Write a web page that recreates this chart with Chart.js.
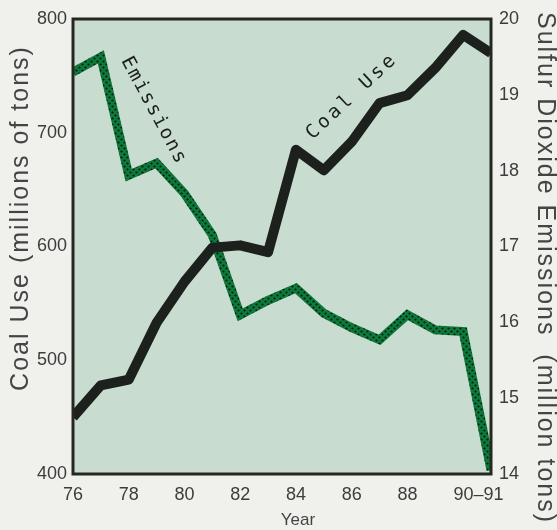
<!DOCTYPE html>
<html>
<head>
<meta charset="utf-8">
<script src="https://cdn.jsdelivr.net/npm/chart.js@4.4.1/dist/chart.umd.min.js"></script>
<style>
  html, body { margin: 0; padding: 0; background: #f0f0ec; }
  #c { display: block; }
</style>
</head>
<body>
<canvas id="c" width="557" height="530"></canvas>
<script>
// ---- data ----
const years = [76, 77, 78, 79, 80, 81, 82, 83, 84, 85, 86, 87, 88, 89, 90, 91];
const coalUse = [450, 478, 483, 533, 569, 599, 601, 595, 685, 667, 692, 726, 733, 757, 786, 770];
const so2Emissions = [19.30, 19.50, 17.94, 18.10, 17.70, 17.15, 16.10, 16.29, 16.45, 16.12, 15.93, 15.77, 16.10, 15.90, 15.88, 14.05];
const xTickValues = [76, 78, 80, 82, 84, 86, 88, 90.55];
const xTickLabels = ['76', '78', '80', '82', '84', '86', '88', '90\u201391'];
const leftTicks = [400, 500, 600, 700, 800];
const rightTicks = [14, 15, 16, 17, 18, 19, 20];

const FONT = '"Liberation Sans", Arial, Helvetica, sans-serif';
const MONO = '"DejaVu Sans Mono", monospace';
const TEXT = '#3c3c3c';

// halftone green pattern for the emissions line
function makePattern() {
  const pc = document.createElement('canvas');
  pc.width = 6; pc.height = 6;
  const p = pc.getContext('2d');
  p.fillStyle = '#0d7a3b';
  p.fillRect(0, 0, 6, 6);
  p.fillStyle = '#0a1a10';
  p.beginPath(); p.arc(1.5, 1.5, 1.1, 0, Math.PI * 2); p.fill();
  p.beginPath(); p.arc(4.5, 4.5, 1.1, 0, Math.PI * 2); p.fill();
  return document.getElementById('c').getContext('2d').createPattern(pc, 'repeat');
}

function spacedText(ctx, text, cx, cy, angleDeg, advance) {
  ctx.save();
  ctx.translate(cx, cy);
  ctx.rotate(angleDeg * Math.PI / 180);
  ctx.textAlign = 'center';
  ctx.textBaseline = 'middle';
  const start = -advance * (text.length - 1) / 2;
  for (let i = 0; i < text.length; i++) {
    ctx.fillText(text[i], start + i * advance, 0);
  }
  ctx.restore();
}

const decor = {
  id: 'decor',
  beforeDatasetsDraw(chart) {
    const { ctx, chartArea: a } = chart;
    ctx.save();
    ctx.fillStyle = '#c8ddd0';
    ctx.fillRect(a.left, a.top, a.right - a.left, a.bottom - a.top);
    ctx.restore();
  },
  afterDatasetsDraw(chart) {
    const { ctx, chartArea: a, scales } = chart;
    ctx.save();
    ctx.strokeStyle = '#24281f';
    ctx.lineWidth = 3;
    ctx.strokeRect(a.left, a.top, a.right - a.left, a.bottom - a.top);

    // in-plot labels
    ctx.fillStyle = '#1c1f1c';
    ctx.font = '19px ' + MONO;
    spacedText(ctx, 'Emissions', scales.x.getPixelForValue(78.88), scales.y.getPixelForValue(720), 61.8, 13.3);
    spacedText(ctx, 'Coal Use', scales.x.getPixelForValue(85.97), scales.y.getPixelForValue(731), -43, 14.7);

    // axis titles
    ctx.fillStyle = '#444';
    ctx.textAlign = 'center';
    ctx.textBaseline = 'middle';
    ctx.font = '25px ' + FONT;
    if ('letterSpacing' in ctx) ctx.letterSpacing = '2px';
    ctx.save();
    ctx.translate(21, 218);
    ctx.rotate(-Math.PI / 2);
    ctx.fillText('Coal Use (millions of tons)', 0, 0);
    ctx.restore();
    ctx.save();
    ctx.translate(545, 268);
    ctx.rotate(Math.PI / 2);
    ctx.fillText('Sulfur Dioxide Emissions  (million tons)', 0, 0);
    ctx.restore();
    if ('letterSpacing' in ctx) ctx.letterSpacing = '0px';
    ctx.font = '17px ' + FONT;
    ctx.fillText('Year', 298, 520);
    ctx.restore();
  }
};

new Chart(document.getElementById('c'), {
  type: 'line',
  data: {
    labels: years,
    datasets: [
      {
        label: 'Coal Use',
        data: years.map((y, i) => ({ x: y, y: coalUse[i] })),
        yAxisID: 'y',
        borderColor: '#1d211d',
        borderWidth: 10,
        borderJoinStyle: 'round',
        borderCapStyle: 'butt',
        pointRadius: 0,
        tension: 0,
        clip: 0,
        order: 0
      },
      {
        label: 'Emissions',
        data: years.map((y, i) => ({ x: y, y: so2Emissions[i] })),
        yAxisID: 'y2',
        borderColor: makePattern(),
        borderWidth: 9,
        borderJoinStyle: 'miter',
        pointRadius: 0,
        tension: 0,
        clip: 0,
        order: 1
      }
    ]
  },
  options: {
    responsive: false,
    animation: false,
    devicePixelRatio: 1,
    layout: { padding: { top: 19, left: 0, right: 0, bottom: 0 } },
    plugins: { legend: { display: false }, tooltip: { enabled: false } },
    scales: {
      x: {
        type: 'linear',
        min: 76,
        max: 91,
        grid: { display: false, drawTicks: false },
        border: { display: false },
        afterBuildTicks: s => { s.ticks = xTickValues.map(v => ({ value: v })); },
        afterFit: s => { s.height = 56; },
        ticks: {
          autoSkip: false,
          maxRotation: 0,
          padding: 10,
          color: TEXT,
          font: { size: 18, family: FONT },
          callback: (v, i) => xTickLabels[i]
        }
      },
      y: {
        position: 'left',
        min: 400,
        max: 800,
        grid: { display: false, drawTicks: false },
        border: { display: false },
        afterBuildTicks: s => { s.ticks = leftTicks.map(v => ({ value: v })); },
        afterFit: s => { s.width = 73; },
        ticks: { padding: 6, color: TEXT, font: { size: 18, family: FONT } }
      },
      y2: {
        position: 'right',
        min: 14,
        max: 20,
        grid: { display: false, drawTicks: false },
        border: { display: false },
        afterBuildTicks: s => { s.ticks = rightTicks.map(v => ({ value: v })); },
        afterFit: s => { s.width = 66; },
        ticks: { padding: 8, color: TEXT, font: { size: 18, family: FONT } }
      }
    }
  },
  plugins: [decor]
});
</script>
</body>
</html>
